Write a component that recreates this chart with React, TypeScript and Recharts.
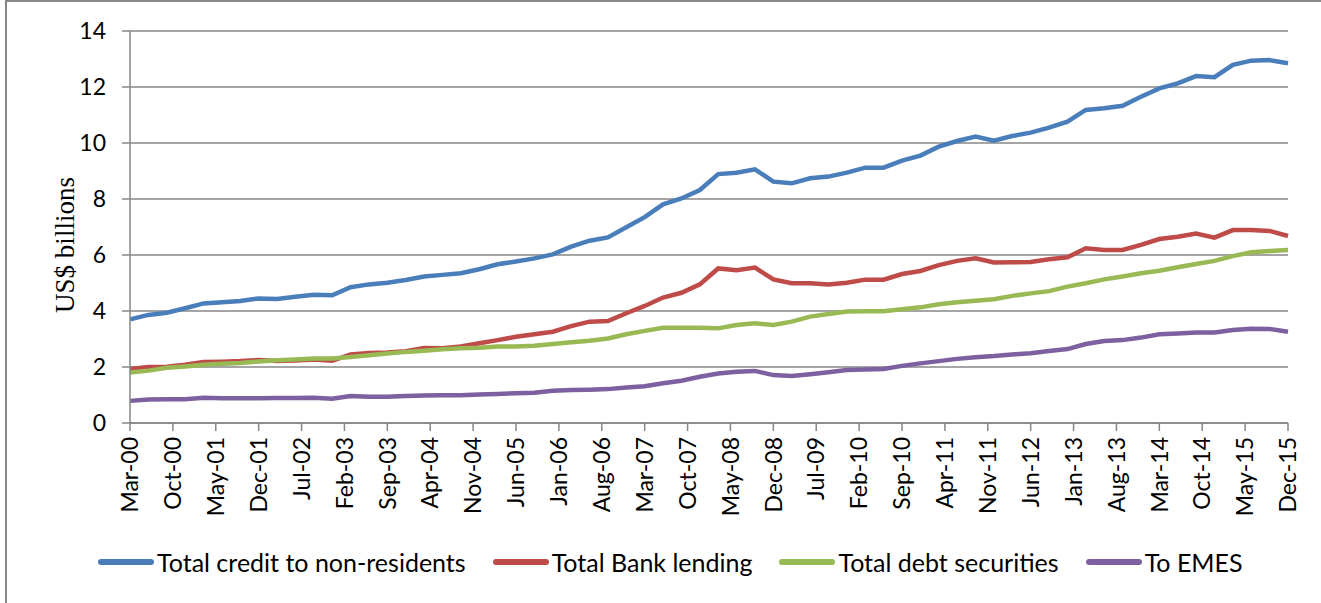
import { LineChart, Line, XAxis, YAxis, CartesianGrid } from 'recharts';

// quarterly data, Mar-00 .. Dec-15 (64 quarters)
const quarterLabels: string[] = [];
for (let yr = 0; yr <= 15; yr++) {
  ['Mar', 'Jun', 'Sep', 'Dec'].forEach((m) => quarterLabels.push(`${m}-${String(yr).padStart(2, '0')}`));
}

const monthNames = ['Jan', 'Feb', 'Mar', 'Apr', 'May', 'Jun', 'Jul', 'Aug', 'Sep', 'Oct', 'Nov', 'Dec'];

const totalCredit = [
  3.70, 3.86, 3.94, 4.10, 4.27, 4.31, 4.36, 4.45, 4.43, 4.51, 4.58, 4.56, 4.85, 4.95, 5.01, 5.11,
  5.23, 5.29, 5.35, 5.49, 5.67, 5.77, 5.88, 6.02, 6.30, 6.51, 6.63, 6.99, 7.35, 7.81, 8.02, 8.32,
  8.89, 8.94, 9.06, 8.62, 8.56, 8.74, 8.80, 8.94, 9.12, 9.12, 9.37, 9.55, 9.87, 10.07, 10.23, 10.08,
  10.25, 10.37, 10.55, 10.76, 11.18, 11.24, 11.33, 11.65, 11.95, 12.13, 12.39, 12.35, 12.79, 12.94, 12.96, 12.85,
];

const bankLending = [
  1.93, 2.0, 2.01, 2.08, 2.18, 2.19, 2.21, 2.25, 2.21, 2.23, 2.27, 2.22, 2.45, 2.5, 2.52, 2.56,
  2.68, 2.67, 2.73, 2.85, 2.96, 3.08, 3.17, 3.26, 3.46, 3.62, 3.64, 3.92, 4.18, 4.48, 4.65, 4.95,
  5.52, 5.46, 5.55, 5.13, 4.99, 4.99, 4.95, 5.01, 5.12, 5.12, 5.32, 5.43, 5.64, 5.79, 5.88, 5.73,
  5.74, 5.75, 5.85, 5.92, 6.24, 6.18, 6.18, 6.36, 6.57, 6.65, 6.77, 6.62, 6.89, 6.89, 6.86, 6.68,
];

const debtSecurities = [
  1.80, 1.87, 1.97, 2.02, 2.08, 2.12, 2.14, 2.20, 2.24, 2.27, 2.30, 2.30, 2.36, 2.42, 2.48, 2.54,
  2.58, 2.63, 2.67, 2.69, 2.73, 2.73, 2.76, 2.82, 2.88, 2.94, 3.02, 3.17, 3.29, 3.40, 3.40, 3.40,
  3.38, 3.50, 3.56, 3.50, 3.62, 3.80, 3.89, 3.98, 3.99, 3.99, 4.06, 4.13, 4.24, 4.31, 4.37, 4.42,
  4.54, 4.63, 4.71, 4.87, 4.99, 5.13, 5.23, 5.35, 5.44, 5.56, 5.68, 5.79, 5.96, 6.10, 6.14, 6.18,
];

const toEmes = [
  0.79, 0.84, 0.85, 0.85, 0.90, 0.88, 0.88, 0.88, 0.89, 0.89, 0.90, 0.87, 0.96, 0.94, 0.94, 0.96,
  0.98, 0.99, 0.99, 1.02, 1.04, 1.06, 1.08, 1.15, 1.18, 1.19, 1.21, 1.27, 1.31, 1.42, 1.51, 1.65,
  1.77, 1.83, 1.86, 1.71, 1.68, 1.74, 1.81, 1.89, 1.91, 1.93, 2.04, 2.13, 2.21, 2.29, 2.35, 2.39,
  2.45, 2.49, 2.57, 2.64, 2.82, 2.93, 2.96, 3.05, 3.17, 3.20, 3.23, 3.23, 3.32, 3.37, 3.36, 3.26,
];

const yTicks = [0, 2, 4, 6, 8, 10, 12, 14];

const series = [
  { key: 'credit', name: 'Total credit to non-residents', color: '#4A7EBB' },
  { key: 'bank', name: 'Total Bank lending', color: '#BE4B48' },
  { key: 'debt', name: 'Total debt securities', color: '#98B954' },
  { key: 'emes', name: 'To EMES', color: '#7D60A0' },
];

// months since Mar-00
const monthIndex = (label: string) => {
  const [m, y] = label.split('-');
  return Number(y) * 12 + monthNames.indexOf(m) - 2;
};

const data = quarterLabels.map((q, i) => ({
  m: monthIndex(q),
  credit: totalCredit[i],
  bank: bankLending[i],
  debt: debtSecurities[i],
  emes: toEmes[i],
}));

// axis labels every 7 months
const xTicks: number[] = [];
for (let t = 0; t <= 189; t += 7) xTicks.push(t);

const fmtMonth = (t: number) => {
  const abs = t + 2;
  return `${monthNames[abs % 12]}-${String(Math.floor(abs / 12)).padStart(2, '0')}`;
};

const FONT = 'Lato, "Open Sans", sans-serif';
const GRID = '#878787';

const XTick = ({ x, y, payload }: any) => (
  <text
    x={x}
    y={y}
    transform={`rotate(-90, ${x}, ${y})`}
    textAnchor="end"
    dy="0.36em"
    fontSize={23}
    fontFamily={FONT}
    fill="#000"
  >
    {fmtMonth(payload.value)}
  </text>
);

const YLabel = () => (
  <text
    x={74}
    y={245}
    transform="rotate(-90, 74, 245)"
    textAnchor="middle"
    fontSize={27}
    fontFamily='"Liberation Serif", "Times New Roman", serif'
    fill="#000"
  >
    US$ billions
  </text>
);

export default function App() {
  return (
    <div style={{ position: 'relative', width: 1321, height: 603, background: '#fff', overflow: 'hidden' }}>
      <style>{'body{margin:0;}'}</style>
      <div
        style={{
          position: 'absolute',
          left: 5,
          top: 0,
          width: 1330,
          height: 610,
          borderLeft: `2px solid ${GRID}`,
          borderTop: `2px solid ${GRID}`,
        }}
      />
      <div style={{ position: 'absolute', left: 0, top: 0 }}>
        <LineChart width={1321} height={603} data={data} margin={{ top: 31, right: 33, left: 0, bottom: 0 }}>
          <CartesianGrid horizontal vertical={false} stroke={GRID} strokeWidth={1.5} />
          <XAxis
            dataKey="m"
            type="number"
            domain={[0, 189]}
            ticks={xTicks}
            interval={0}
            height={180}
            tick={<XTick />}
            tickSize={8}
            tickMargin={6}
            stroke={GRID}
            strokeWidth={1.5}
          />
          <YAxis
            width={130}
            domain={[0, 14]}
            ticks={yTicks}
            interval={0}
            tickSize={8}
            tickMargin={16}
            stroke={GRID}
            strokeWidth={1.5}
            tick={{ fill: '#000', fontSize: 23, fontFamily: FONT }}
            label={<YLabel />}
          />
          {series.map((s) => (
            <Line
              key={s.key}
              type="linear"
              dataKey={s.key}
              name={s.name}
              stroke={s.color}
              strokeWidth={4.5}
              dot={false}
              isAnimationActive={false}
            />
          ))}
        </LineChart>
      </div>
      <div
        style={{
          position: 'absolute',
          top: 547,
          left: 98,
          display: 'flex',
          alignItems: 'center',
          fontFamily: FONT,
          fontSize: 25,
          color: '#000',
          whiteSpace: 'nowrap',
        }}
      >
        {series.map((s) => (
          <div key={s.key} style={{ display: 'flex', alignItems: 'center', marginRight: 27 }}>
            <span
              style={{
                display: 'inline-block',
                width: 56,
                height: 6,
                borderRadius: 3,
                background: s.color,
                marginRight: 3,
              }}
            />
            <span>{s.name}</span>
          </div>
        ))}
      </div>
    </div>
  );
}
